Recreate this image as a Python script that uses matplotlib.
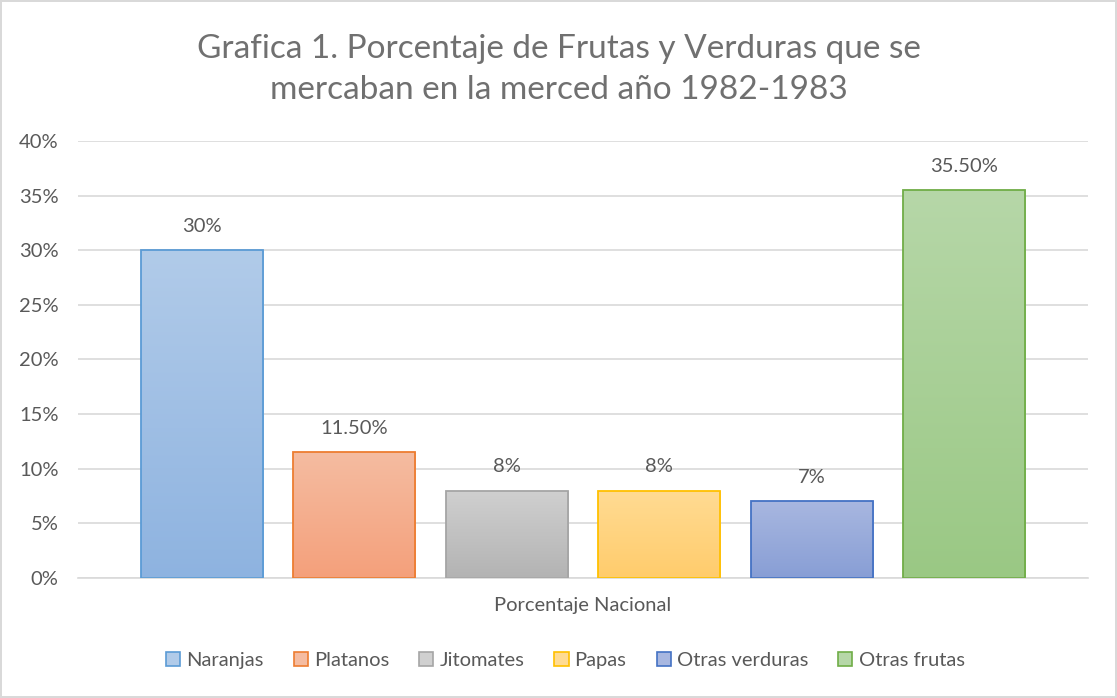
import numpy as np
import matplotlib
matplotlib.use("Agg")
import matplotlib.pyplot as plt
from matplotlib.colors import LinearSegmentedColormap
from matplotlib.patches import Rectangle

plt.rcParams['font.family'] = ['Lato', 'DejaVu Sans']

categories = ['Naranjas', 'Platanos', 'Jitomates', 'Papas', 'Otras verduras', 'Otras frutas']
values = [30, 11.5, 8, 8, 7, 35.5]
labels = ['30%', '11.50%', '8%', '8%', '7%', '35.50%']
top_colors = ['#B1CBE9', '#F5BCA1', '#D0D0D0', '#FFDB93', '#A8B7E0', '#B6D7A8']
bottom_colors = ['#8EB3E0', '#F4A07B', '#B3B3B3', '#FFCC6C', '#889ED5', '#9AC884']
edge_colors = ['#5B9BD5', '#ED7D31', '#A5A5A5', '#FFC000', '#4472C4', '#70AD47']

fs = 14.5
fig = plt.figure(figsize=(11.17, 6.98), dpi=100)
fig.patch.set_edgecolor('#D9D9D9')
fig.patch.set_linewidth(1.5)
ax = fig.add_axes([0.0698, 0.172, 0.904, 0.626])

x = np.arange(len(categories))
bars = ax.bar(x, values, width=0.8, color='none', edgecolor=edge_colors, linewidth=1.3, zorder=3)

# vertical gradient inside each bar
grad = np.linspace(1, 0, 256).reshape(-1, 1)
for b, c1, c2 in zip(bars, top_colors, bottom_colors):
    cmap = LinearSegmentedColormap.from_list('g', [c2, c1])
    x0, y0 = b.get_x(), b.get_y()
    w, h = b.get_width(), b.get_height()
    im = ax.imshow(grad, cmap=cmap, extent=[x0, x0 + w, y0, y0 + h], aspect='auto', zorder=2)
    im.set_clip_path(b)

for xi, v, lab in zip(x, values, labels):
    ax.text(xi, v + 1.4, lab, ha='center', va='bottom', fontsize=fs, color='#595959')

ax.set_xlim(-0.81, 5.81)
ax.set_ylim(0, 40)
ax.set_yticks(range(0, 41, 5))
ax.set_yticklabels([f'{t}%' for t in range(0, 41, 5)], fontsize=fs, color='#595959')
ax.set_xticks([])
ax.yaxis.grid(True, color='#D9D9D9', linewidth=1.2, zorder=0)
ax.set_axisbelow(True)
ax.tick_params(axis='y', length=0, pad=14)
for s in ['top', 'right', 'left']:
    ax.spines[s].set_visible(False)
ax.spines['bottom'].set_color('#D9D9D9')
ax.spines['bottom'].set_linewidth(1.2)
ax.set_xlabel('Porcentaje Nacional', fontsize=fs, color='#595959', labelpad=14)

fig.text(0.5, 0.9, 'Grafica 1. Porcentaje de Frutas y Verduras que se\nmercaban en la merced año 1982-1983',
         ha='center', va='center', fontsize=24, color='#707070', linespacing=1.45)

handles = [Rectangle((0, 0), 1, 1, facecolor=c, edgecolor=e, linewidth=1.2)
           for c, e in zip(top_colors, edge_colors)]
fig.legend(handles, categories, loc='center', bbox_to_anchor=(0.506, 0.054), ncol=6, frameon=False,
           fontsize=fs, labelcolor='#595959', handlelength=0.7, handleheight=0.7,
           handletextpad=0.3, columnspacing=1.5)

fig.savefig('out.png', dpi=100)
